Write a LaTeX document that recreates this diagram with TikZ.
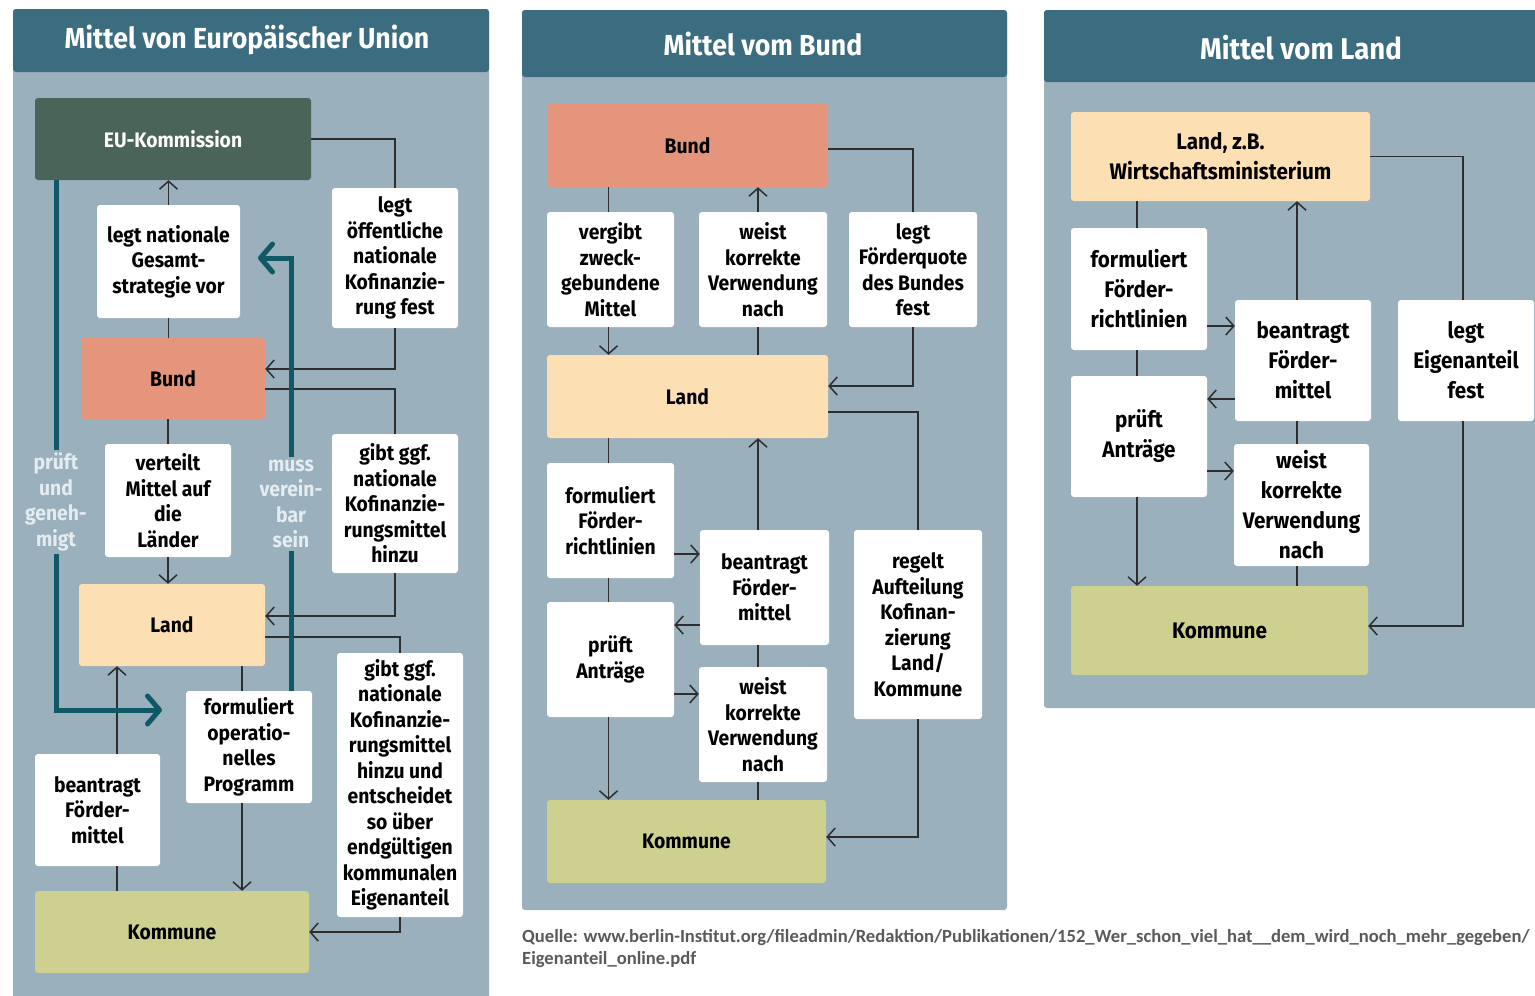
\documentclass[tikz,border=0pt]{standalone}
\usepackage{fontspec}
\setmainfont{Fira Sans}[FakeStretch=0.92]
\newfontfamily\srcfont{Carlito}
\usetikzlibrary{arrows.meta}

\definecolor{headc}{HTML}{3B6C7F}
\definecolor{bodyc}{HTML}{9AB0BD}
\definecolor{euc}{HTML}{4B6459}
\definecolor{bundc}{HTML}{E5957B}
\definecolor{landc}{HTML}{FDDFB4}
\definecolor{kommc}{HTML}{CDD08F}
\definecolor{tealc}{HTML}{0F5866}
\definecolor{linec}{HTML}{2E2E2E}
\definecolor{notec}{HTML}{E4ECF0}
\definecolor{srcc}{HTML}{5A5A5A}

\begin{document}
\begin{tikzpicture}[x=1pt, y=-1pt,
	box/.style={rectangle, rounded corners=3pt, fill=white, inner sep=0pt, align=center, text=black, font=\bfseries\fontsize{21}{25.5}\selectfont},
	boxl/.style={box, font=\bfseries\fontsize{22.5}{30}\selectfont},
	sz/.style 2 args={minimum width=#1, minimum height=#2},
	actor/.style={box, font=\bfseries\fontsize{21}{26}\selectfont},
	title/.style={text=white, font=\bfseries\fontsize{29}{30}\selectfont},
	note/.style={text=notec, align=center, inner sep=3pt, font=\bfseries\fontsize{21}{25.5}\selectfont},
	line/.style={draw=linec, line width=1.5pt},
	arr/.style={line, -{Straight Barb[length=8pt, width=18pt]}},
	big/.style={draw=tealc, line width=5pt, -{Straight Barb[length=12pt, width=28pt, round]}}]
	\clip (0,0) rectangle (1535,996);
	\fill[white] (0,0) rectangle (1535,996);

	% panels
	\fill[bodyc, rounded corners=3pt] (13,9) rectangle (489,1000);
	\fill[headc, rounded corners=3pt] (13,9) rectangle (489,72);
	\fill[bodyc, rounded corners=3pt] (522,10) rectangle (1007,910);
	\fill[headc, rounded corners=3pt] (522,10) rectangle (1007,77);
	\fill[bodyc, rounded corners=3pt] (1044,10) rectangle (1560,708);
	\fill[headc, rounded corners=3pt] (1044,10) rectangle (1560,82);
	\node[title] (t1) at (247,40) {Mittel von Europäischer Union};
	\node[title] (t2) at (763,44) {Mittel vom Bund};
	\node[title, font=\bfseries\fontsize{30}{30}\selectfont] (t3) at (1301,48) {Mittel vom Land};

	% EU
	\node[actor, sz={276}{82}, fill=euc, text=white] (eu) at (173,139) {EU-Kommission};
	\node[box, sz={143}{113}] (ns) at (168.5,261.5) {legt nationale\\Gesamt-\\strategie vor};
	\node[box, sz={126}{140}] (of) at (395,258) {legt\\öffentliche\\nationale\\Kofinanzie-\\rung fest};
	\node[actor, sz={184}{81}, fill=bundc] (bu1) at (173,378.5) {Bund};
	\node[box, sz={126}{113}] (vt) at (168,500.5) {verteilt\\Mittel auf\\die\\Länder};
	\node[box, sz={126}{139}] (gb) at (395,503.5) {gibt ggf.\\nationale\\Kofinanzie-\\rungsmittel\\hinzu};
	\node[actor, sz={186}{82}, fill=landc] (la1) at (172,625) {Land};
	\node[box, sz={126}{112}] (op) at (249,747) {formuliert\\operatio-\\nelles\\Programm};
	\node[box, sz={126}{264}] (ge) at (400,785) {gibt ggf.\\nationale\\Kofinanzie-\\rungsmittel\\hinzu und\\entscheidet\\so über\\endgültigen\\kommunalen\\Eigenanteil};
	\node[box, sz={125}{112}] (ba1) at (97.5,810) {beantragt\\Förder-\\mittel};
	\node[actor, sz={274}{82}, fill=kommc] (ko1) at (172,932) {Kommune};
	\node[note] (pr) at (56,502) {prüft\\und\\geneh-\\migt};
	\node[note] (mv) at (291,504) {muss\\verein-\\bar\\sein};
	\coordinate (pe) at (162,710);
	\coordinate (me) at (258,258);

	\draw[line] (eu.east) -| (of.north);
	\draw[arr] (of.south) |- ([yshift=9.5pt]bu1.east);
	\draw[line] ([yshift=-10.5pt]bu1.east) -| (gb.north);
	\draw[arr] (gb.south) |- ([yshift=9pt]la1.east);
	\draw[line] ([yshift=-12pt]la1.east) -| (ge.north);
	\draw[arr] (ge.south) |- (ko1.east);
	\draw[line] (ns.south |- bu1.north) -- (ns.south);
	\draw[arr] (ns.north) -- (ns.north |- eu.south);
	\draw[line] (vt.north |- bu1.south) -- (vt.north);
	\draw[arr] (vt.south) -- (vt.south |- la1.north);
	\draw[line] ([xshift=-7pt]op.north |- la1.south) -- ([xshift=-7pt]op.north);
	\draw[arr] ([xshift=-7pt]op.south) -- ([xshift=-7pt]op.south |- ko1.north);
	\draw[line] ([xshift=19.5pt]ba1.south |- ko1.north) -- ([xshift=19.5pt]ba1.south);
	\draw[arr] ([xshift=19.5pt]ba1.north) -- ([xshift=19.5pt]ba1.north |- la1.south);
	\draw[big, -] (pr.north |- eu.south) -- (pr.north);
	\draw[big] (pr.south) |- (pe);
	\draw[big, -] (mv.south |- op.north) -- (mv.south);
	\draw[big] (mv.north) |- (me);

	% Bund
	\node[actor, sz={281}{83}, fill=bundc] (bu2) at (687.5,145.5) {Bund};
	\node[box, sz={127}{115}] (vg) at (610.5,269.5) {vergibt\\zweck-\\gebundene\\Mittel};
	\node[box, sz={128}{115}] (wk1) at (763,269.5) {weist\\korrekte\\Verwendung\\nach};
	\node[box, sz={128}{115}] (fq) at (913,269.5) {legt\\Förderquote\\des Bundes\\fest};
	\node[actor, sz={281}{83}, fill=landc] (la2) at (687.5,396.5) {Land};
	\node[box, sz={127}{115}] (fr2) at (610.5,520.5) {formuliert\\Förder-\\richtlinien};
	\node[box, sz={129}{115}] (ba2) at (764.5,587.5) {beantragt\\Förder-\\mittel};
	\node[box, sz={127}{115}] (pa2) at (610.5,659.5) {prüft\\Anträge};
	\node[box, sz={128}{115}] (wk2) at (763,724.5) {weist\\korrekte\\Verwendung\\nach};
	\node[box, sz={128}{189}] (rg) at (918,624.5) {regelt\\Aufteilung\\Kofinan-\\zierung\\Land/\\Kommune};
	\node[actor, sz={279}{83}, fill=kommc] (ko2) at (686.5,841.5) {Kommune};

	\draw[line] ([yshift=-3.5pt]bu2.east) -| (fq.north);
	\draw[arr] (fq.south) |- ([yshift=10.5pt]la2.east);
	\draw[line] ([yshift=-15.5pt]la2.east) -| (rg.north);
	\draw[arr] (rg.south) |- ([yshift=4.5pt]ko2.east);
	\draw[line] ([xshift=-2pt]vg.north |- bu2.south) -- ([xshift=-2pt]vg.north);
	\draw[arr] ([xshift=-2pt]vg.south) -- ([xshift=-2pt]vg.south |- la2.north);
	\draw[line] ([xshift=-5pt]wk1.south |- la2.north) -- ([xshift=-5pt]wk1.south);
	\draw[arr] ([xshift=-5pt]wk1.north) -- ([xshift=-5pt]wk1.north |- bu2.south);
	\draw[line] ([xshift=-2pt]fr2.north |- la2.south) -- ([xshift=-2pt]fr2.north);
	\draw[line] ([xshift=-2pt]fr2.south) -- ([xshift=-2pt]pa2.north);
	\draw[arr] ([xshift=-2pt]pa2.south) -- ([xshift=-2pt]pa2.south |- ko2.north);
	\draw[arr] ([yshift=-33.5pt]fr2.east) -- ([yshift=-33.5pt]fr2.east -| ba2.west);
	\draw[arr] ([yshift=-37.5pt]ba2.west) -- ([yshift=-37.5pt]ba2.west -| pa2.east);
	\draw[arr] ([yshift=-34.5pt]pa2.east) -- ([yshift=-34.5pt]pa2.east -| wk2.west);
	\draw[arr] ([xshift=-6.5pt]ba2.north) -- ([xshift=-6.5pt]ba2.north |- la2.south);
	\draw[line] ([xshift=-6.5pt]ba2.south) -- ([xshift=-5pt]wk2.north);
	\draw[line] ([xshift=-5pt]wk2.south) -- ([xshift=-5pt]wk2.south |- ko2.north);

	% Land
	\node[boxl, sz={299}{89}, fill=landc] (lw) at (1220.5,156.5) {Land, z.B.\\Wirtschaftsministerium};
	\node[boxl, sz={136}{122}] (fr3) at (1139,289) {formuliert\\Förder-\\richtlinien};
	\node[boxl, sz={136}{121}] (ba3) at (1303,360.5) {beantragt\\Förder-\\mittel};
	\node[boxl, sz={136}{121}] (ef) at (1466,360.5) {legt\\Eigenanteil\\fest};
	\node[boxl, sz={136}{121}] (pa3) at (1139,436.5) {prüft\\Anträge};
	\node[boxl, sz={135}{122}] (wk3) at (1301.5,505) {weist\\korrekte\\Verwendung\\nach};
	\node[boxl, sz={297}{89}, fill=kommc] (ko3) at (1219.5,630.5) {Kommune};

	\draw[line] (lw.east) -| ([xshift=-3pt]ef.north);
	\draw[arr] ([xshift=-3pt]ef.south) |- ([yshift=4.5pt]ko3.east);
	\draw[line] ([xshift=-2pt]fr3.north |- lw.south) -- ([xshift=-2pt]fr3.north);
	\draw[line] ([xshift=-2pt]fr3.south) -- ([xshift=-2pt]pa3.north);
	\draw[arr] ([xshift=-2pt]pa3.south) -- ([xshift=-2pt]pa3.south |- ko3.north);
	\draw[arr] ([yshift=-37pt]fr3.east) -- ([yshift=-37pt]fr3.east -| ba3.west);
	\draw[arr] ([yshift=-38.5pt]ba3.west) -- ([yshift=-38.5pt]ba3.west -| pa3.east);
	\draw[arr] ([yshift=-34.5pt]pa3.east) -- ([yshift=-34.5pt]pa3.east -| wk3.west);
	\draw[arr] ([xshift=-6pt]ba3.north) -- ([xshift=-6pt]ba3.north |- lw.south);
	\draw[line] ([xshift=-6pt]ba3.south) -- ([xshift=-4.5pt]wk3.north);
	\draw[line] ([xshift=-4.5pt]wk3.south) -- ([xshift=-4.5pt]wk3.south |- ko3.north);

	\node[anchor=north west, align=left, inner sep=0pt, text=srcc, font=\srcfont\bfseries\fontsize{18.6}{22}\selectfont] (src) at (522,929) {Quelle: www.berlin-Institut.org/fileadmin/Redaktion/Publikationen/152\_Wer\_schon\_viel\_hat\_\_dem\_wird\_noch\_mehr\_gegeben/\\Eigenanteil\_online.pdf};
\end{tikzpicture}
\end{document}
